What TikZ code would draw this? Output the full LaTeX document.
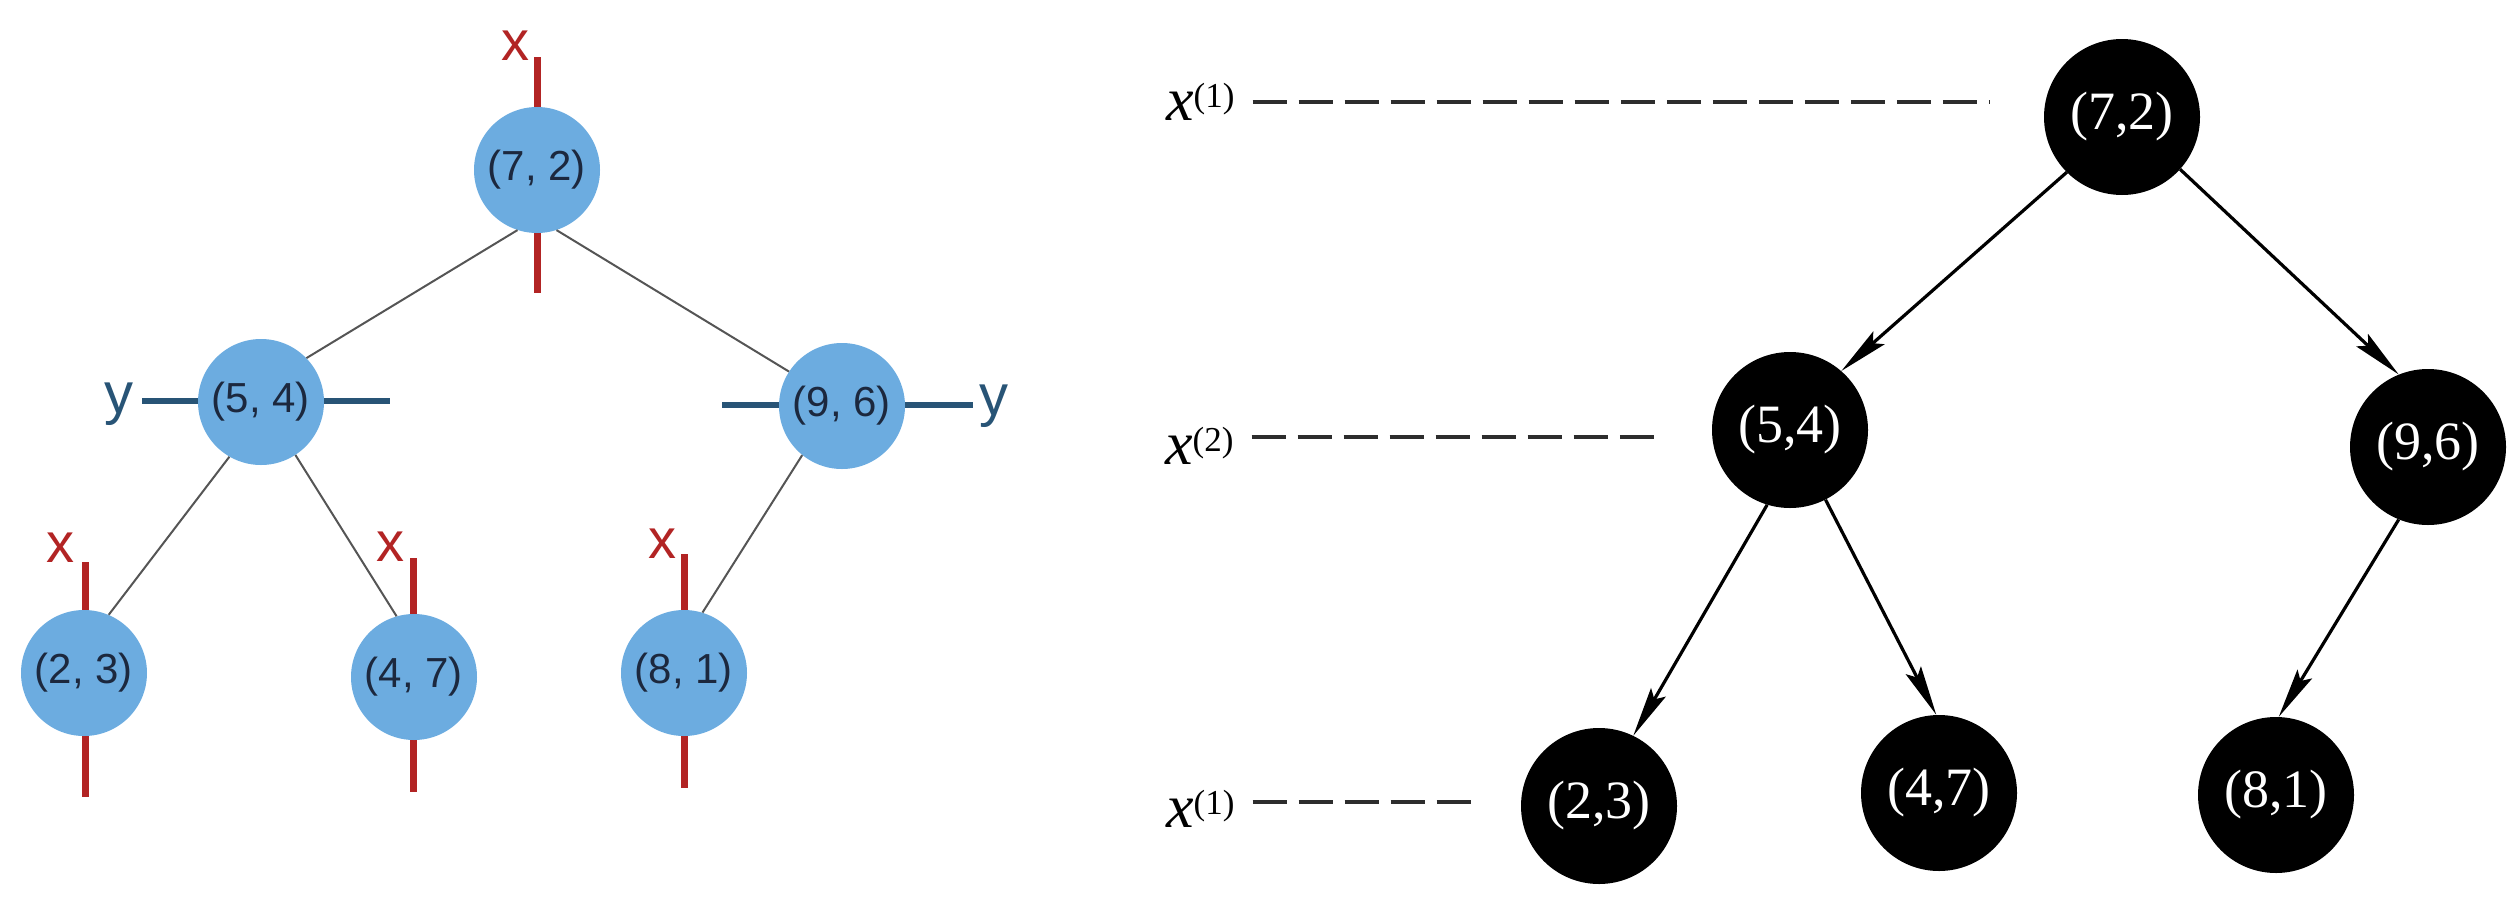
\documentclass[tikz,border=0pt]{standalone}
\usepackage{fontspec}
\setmainfont{Liberation Serif}
\newfontfamily\helv{Liberation Sans}
\usetikzlibrary{arrows.meta,calc}
\definecolor{nodeblue}{RGB}{108,172,224}
\definecolor{navy}{RGB}{28,40,62}
\definecolor{kdred}{RGB}{178,36,36}
\definecolor{kdblue}{RGB}{40,84,118}
\definecolor{edgegray}{RGB}{85,85,85}
\definecolor{dashgray}{RGB}{45,45,45}
\pgfdeclarelayer{bg}\pgfsetlayers{bg,main}
\begin{document}
\begin{tikzpicture}[x=1pt,y=-1pt,
 bnode/.style={circle,fill=nodeblue,inner sep=0pt,minimum size=126pt,text=navy,font=\helv\fontsize{42}{48}\selectfont},
 knode/.style={circle,fill=black,inner sep=0pt,minimum size=156pt,text=white,font=\fontsize{54}{60}\selectfont},
 redline/.style={draw=kdred,line width=7pt},
 blueline/.style={draw=kdblue,line width=6pt},
 xlab/.style={text=kdred,font=\helv\fontsize{56}{60}\selectfont,inner sep=0pt,anchor=base east},
 ylab/.style={text=kdblue,font=\helv\fontsize{58}{62}\selectfont,inner sep=0pt},
 edgeL/.style={draw=edgegray,line width=2pt},
 arr/.style={draw=black,line width=3.2pt,-{Stealth[length=50pt,width=17pt,inset=8pt]}},
 dashline/.style={draw=dashgray,line width=4.5pt,dash pattern=on 34pt off 12pt},
 lvl/.style={inner sep=0pt,anchor=base west,font=\fontsize{62}{66}\selectfont}
]
\useasboundingbox (0,0) rectangle (2508,905);

% ---------- left tree ----------
\node[bnode] (n72) at (537,170) {(7, 2)};
\node[bnode] (n54) at (261,402) {(5, 4)};
\node[bnode] (n96) at (842,406) {(9, 6)};
\node[bnode] (n23) at (84,673) {(2, 3)};
\node[bnode] (n47) at (414,677) {(4, 7)};
\node[bnode] (n81) at (684,673) {(8, 1)};

\begin{pgfonlayer}{bg}
\draw[redline] ([yshift=113pt]n72.center) -- ([yshift=-123pt]n72.center);
\draw[redline] ([xshift=1pt,yshift=111pt]n23.center) -- ([xshift=1pt,yshift=-124pt]n23.center);
\draw[redline] ([xshift=-1pt,yshift=119pt]n47.center) -- ([xshift=-1pt,yshift=-115pt]n47.center);
\draw[redline] ([yshift=119pt]n81.center) -- ([yshift=-115pt]n81.center);
\draw[blueline] ([xshift=-119pt,yshift=1pt]n54.center) -- ([xshift=129pt,yshift=1pt]n54.center);
\draw[blueline] ([xshift=-120pt,yshift=1pt]n96.center) -- ([xshift=131pt,yshift=1pt]n96.center);
\end{pgfonlayer}

\node[xlab] (x72) at (530,60) {x};
\node[xlab] (x23) at (75,562) {x};
\node[xlab] (x47) at (405,561) {x};
\node[xlab] (x81) at (677,558) {x};
\node[ylab,anchor=base east] (y54) at (134,413) {y};
\node[ylab,anchor=base west] (y96) at (979,415) {y};

\draw[edgeL] (n72.252) -- (n54.44);
\draw[edgeL] (n72.288) -- (n96.147);
\draw[edgeL] (n54.240) -- (n23.67);
\draw[edgeL] (n54.303) -- (n47.106);
\draw[edgeL] (n96.231) -- (n81.73);

% ---------- right tree ----------
\node[knode] (r72) at (2122,117) {(7,2)};
\node[knode] (r54) at (1790,430) {(5,4)};
\node[knode] (r96) at (2428,447) {(9,6)};
\node[knode] (r23) at (1599,806) {(2,3)};
\node[knode] (r47) at (1939,793) {(4,7)};
\node[knode] (r81) at (2276,795) {(8,1)};

\draw[arr] (r72.225) -- (r54.49);
\draw[arr] (r72.318) -- (r96.112);
\draw[arr] (r54.253) -- (r23.64);
\draw[arr] (r54.297) -- (r47.92);
\draw[arr] (r96.248) -- (r81.88);

% ---------- level labels ----------
\node[lvl] (l1) at (1166,120) {\textit{x}\raisebox{13pt}{\fontsize{35}{38}\selectfont(1)}};
\node[lvl] (l2) at (1165,464) {\textit{x}\raisebox{13pt}{\fontsize{35}{38}\selectfont(2)}};
\node[lvl] (l3) at (1166,827) {\textit{x}\raisebox{13pt}{\fontsize{35}{38}\selectfont(1)}};

\coordinate (d1e) at (1990,102);
\coordinate (d2e) at (1655,437);
\coordinate (d3e) at (1480,802);
\draw[dashline] ($(l1.east |- d1e)+(18,0)$) -- (d1e);
\draw[dashline] ($(l2.east |- d2e)+(18,0)$) -- (d2e);
\draw[dashline] ($(l3.east |- d3e)+(18,0)$) -- (d3e);
\end{tikzpicture}
\end{document}
